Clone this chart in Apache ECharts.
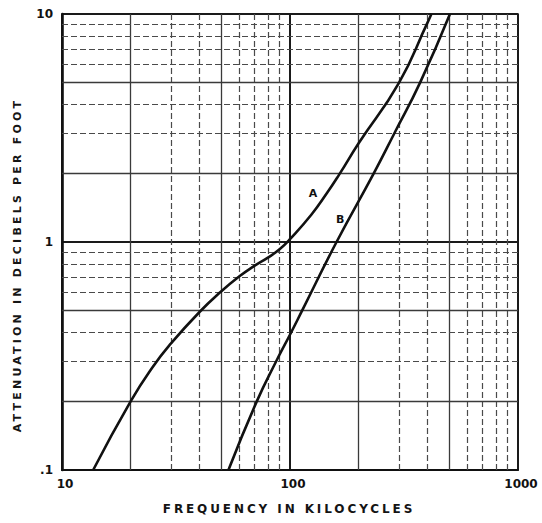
<!DOCTYPE html>
<html>
<head>
<meta charset="utf-8">
<script src="https://cdn.jsdelivr.net/npm/echarts@6/dist/echarts.min.js"></script>
<style>
html, body { margin: 0; padding: 0; background: #ffffff; }
#chart { width: 542px; height: 523px; }
#chart text[fill="#141414"], #chart text[fill="rgb(20,20,20)"] { letter-spacing: 2.9px; }
#chart text[fill="#151515"], #chart text[fill="rgb(21,21,21)"] { letter-spacing: 3.2px; }
</style>
</head>
<body>
<div id="chart"></div>
<script>
// ---- data ----
const xTickValues = [10, 100, 1000];
const xTickLabels = ['10', '100', '1000'];
const yTickValues = [0.1, 1, 10];
const yTickLabels = ['.1', '1', '10'];

const xMinorGrid = [20, 30, 40, 50, 60, 70, 80, 90, 200, 300, 400, 500, 600, 700, 800, 900];
const yMinorGrid = [0.2, 0.3, 0.4, 0.5, 0.6, 0.7, 0.8, 0.9, 2, 3, 4, 5, 6, 7, 8, 9];

const curveAFreq  = [13.7, 20, 25, 30, 40, 50, 60, 70, 80, 90, 100, 124, 145, 164, 200, 300, 400, 417];
const curveAAtten = [0.1, 0.2, 0.283, 0.358, 0.492, 0.608, 0.707, 0.788, 0.854, 0.93, 1.03, 1.317, 1.635, 1.97, 2.71, 4.98, 9.12, 10];

const curveBFreq  = [53.7, 71.5, 87, 101, 113, 160, 233, 287, 372, 503];
const curveBAtten = [0.1, 0.2, 0.3, 0.4, 0.5, 1.0, 2.0, 3.0, 5.0, 10];

const labelA = { text: 'A', at: [126, 1.64] };
const labelB = { text: 'B', at: [166, 1.25] };

const xTitle = 'FREQUENCY IN KILOCYCLES';
const yTitle = 'ATTENUATION IN DECIBELS PER FOOT';

// ---- build chart ----
function minorStyle(v) {
  const lead = Math.round(v / Math.pow(10, Math.floor(Math.log10(v) + 1e-9)));
  if (lead === 2 || lead === 5) {
    return { color: '#3a3a3a', width: 1.3, type: 'solid' };
  }
  return { color: '#4a4a4a', width: 1.2, type: [6, 3] };
}
const gridLines = [];
xMinorGrid.forEach(v => gridLines.push({ xAxis: v, lineStyle: minorStyle(v) }));
yMinorGrid.forEach(v => gridLines.push({ yAxis: v, lineStyle: minorStyle(v) }));

function tickLabel(values, labels) {
  return function (v) {
    const i = values.findIndex(t => Math.abs(Math.log10(t) - Math.log10(v)) < 1e-6);
    return i >= 0 ? labels[i] : '';
  };
}

const tickFont = { fontFamily: 'DejaVu Sans', fontWeight: 'bold', fontSize: 12, color: '#111' };
const curveLabelStyle = { show: true, position: 'inside', fontFamily: 'DejaVu Sans', fontWeight: 'bold', fontSize: 11, color: '#111' };

const chart = echarts.init(document.getElementById('chart'), null, { renderer: 'svg' });
chart.setOption({
  animation: false,
  backgroundColor: '#ffffff',
  grid: { left: 62, right: 24, top: 14, bottom: 53, show: true, borderColor: '#1a1a1a', borderWidth: 1.6, backgroundColor: 'transparent' },
  xAxis: {
    type: 'log', logBase: 10, min: 10, max: 1000, interval: 1,
    axisLine: { show: true, lineStyle: { color: '#111', width: 2 } },
    axisTick: { show: false },
    axisLabel: Object.assign({ margin: 8, padding: [0, 0, 0, 6], formatter: tickLabel(xTickValues, xTickLabels) }, tickFont),
    splitLine: { show: true, lineStyle: { color: '#1a1a1a', width: 2 } },
    minorTick: { show: false }, minorSplitLine: { show: false }
  },
  yAxis: {
    type: 'log', logBase: 10, min: 0.1, max: 10, interval: 1,
    axisLine: { show: true, lineStyle: { color: '#111', width: 2.6 } },
    axisTick: { show: false },
    axisLabel: Object.assign({ margin: 9, formatter: tickLabel(yTickValues, yTickLabels) }, tickFont),
    splitLine: { show: true, lineStyle: { color: '#1a1a1a', width: 2 } },
    minorTick: { show: false }, minorSplitLine: { show: false }
  },
  graphic: [
    { type: 'text', x: 289, y: 509, silent: true,
      style: { text: xTitle, fill: '#141414', font: 'bold 12px "DejaVu Sans"', textAlign: 'center', textVerticalAlign: 'middle' } },
    { type: 'text', x: 17, y: 265, rotation: Math.PI / 2, silent: true,
      style: { text: yTitle, fill: '#151515', font: 'bold 11px "DejaVu Sans"', textAlign: 'center', textVerticalAlign: 'middle' } }
  ],
  series: [
    {
      name: 'grid', type: 'line', data: [], z: 1, silent: true,
      markLine: { silent: true, symbol: ['none', 'none'], label: { show: false }, animation: false, emphasis: { disabled: true }, data: gridLines }
    },
    {
      name: 'A', type: 'line', z: 5, showSymbol: false, smooth: 0.5, silent: true,
      data: curveAFreq.map((f, i) => [f, curveAAtten[i]]),
      lineStyle: { color: '#111', width: 2.6 },
      markPoint: { symbol: 'circle', symbolSize: 0, silent: true, label: curveLabelStyle,
        data: [{ coord: labelA.at, value: labelA.text, label: { formatter: labelA.text } }] }
    },
    {
      name: 'B', type: 'line', z: 5, showSymbol: false, smooth: 0.5, silent: true,
      data: curveBFreq.map((f, i) => [f, curveBAtten[i]]),
      lineStyle: { color: '#111', width: 2.6 },
      markPoint: { symbol: 'circle', symbolSize: 0, silent: true, label: curveLabelStyle,
        data: [{ coord: labelB.at, value: labelB.text, label: { formatter: labelB.text } }] }
    }
  ]
});
</script>
</body>
</html>
